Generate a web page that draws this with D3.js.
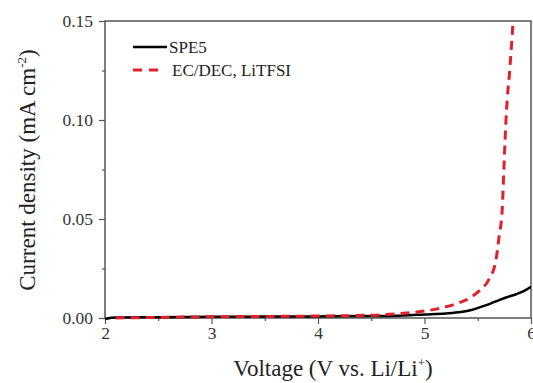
<!DOCTYPE html>
<html>
<head>
<meta charset="utf-8">
<script src="https://cdn.jsdelivr.net/npm/d3@7"></script>
<style>
  body { margin: 0; background: #fff; }
  text { font-family: "Liberation Serif", "DejaVu Serif", serif; }
</style>
</head>
<body>
<div id="chart"></div>
<script>
// series
const speVoltage = [2.0, 2.1, 2.5, 3.0, 3.5, 4.0, 4.5, 4.8, 5.0, 5.2, 5.34, 5.45, 5.53, 5.62, 5.7, 5.78, 5.86, 5.94, 6.0];
const speCurrent = [-0.0005, 0.0002, 0.0004, 0.0006, 0.0007, 0.0008, 0.001, 0.0013, 0.0018, 0.0023, 0.003, 0.0042, 0.0056, 0.0073, 0.009, 0.0106, 0.012, 0.0138, 0.0158];
const ecVoltage = [2.1, 2.5, 3.0, 3.5, 4.0, 4.3, 4.59, 4.8, 5.0, 5.15, 5.3, 5.44, 5.53, 5.6, 5.67, 5.70, 5.73, 5.745, 5.77, 5.80, 5.83];
const ecCurrent = [0.0, 0.0003, 0.0006, 0.0008, 0.001, 0.0012, 0.0016, 0.0024, 0.0035, 0.005, 0.0072, 0.0106, 0.0145, 0.019, 0.029, 0.041, 0.055, 0.075, 0.105, 0.125, 0.148];
const seriesNames = ["SPE5", "EC/DEC, LiTFSI"];
const xTicks = [2, 3, 4, 5, 6];
const yTicks = [0, 0.05, 0.10, 0.15];

const W = 533, H = 383;
const margin = { top: 21, right: 2, bottom: 65, left: 105 };
const width = W - margin.left - margin.right;
const height = H - margin.top - margin.bottom;

const svg = d3.select("#chart").append("svg")
    .attr("width", W)
    .attr("height", H);

const g = svg.append("g")
    .attr("transform", `translate(${margin.left},${margin.top})`);

const x = d3.scaleLinear().domain([2, 6]).range([0, width]);
const y = d3.scaleLinear().domain([0, 0.15]).range([height, 0]);

const axisColor = "#555";
const serif = "'Liberation Serif', 'DejaVu Serif', serif";

//minor ticks
g.append("g")
    .attr("transform", `translate(0,${height})`)
    .call(d3.axisBottom(x).tickValues(d3.range(2.5, 6, 1)).tickSize(3).tickFormat(""))
    .call(a => a.select(".domain").remove())
    .selectAll("line").attr("stroke", axisColor).attr("stroke-width", 1.2);
g.append("g")
    .call(d3.axisLeft(y).tickValues([0.025, 0.075, 0.125]).tickSize(3).tickFormat(""))
    .call(a => a.select(".domain").remove())
    .selectAll("line").attr("stroke", axisColor).attr("stroke-width", 1.2);

//major ticks
const xAxis = g.append("g")
    .attr("transform", `translate(0,${height})`)
    .call(d3.axisBottom(x).tickValues(xTicks).tickSize(6).tickPadding(3).tickFormat(d3.format("d")));
const yAxis = g.append("g")
    .call(d3.axisLeft(y).tickValues(yTicks).tickSize(6).tickPadding(6).tickFormat(d3.format(".2f")));

[xAxis, yAxis].forEach(a => {
    a.attr("font-family", serif).attr("font-size", 17.5);
    a.select(".domain").remove();
    a.selectAll("line").attr("stroke", axisColor).attr("stroke-width", 1.2);
    a.selectAll("text").attr("fill", "#333");
});

//frame
g.append("rect")
    .attr("width", width)
    .attr("height", height)
    .attr("fill", "none")
    .attr("stroke", axisColor)
    .attr("stroke-width", 1.5);

const line = d3.line()
    .x(d => x(d[0]))
    .y(d => y(d[1]))
    .curve(d3.curveMonotoneX);

g.append("defs").append("clipPath").attr("id", "clip")
    .append("rect").attr("width", width).attr("height", height + 2);

g.append("path")
    .datum(speVoltage.map((v, i) => [v, speCurrent[i]]))
    .attr("clip-path", "url(#clip)")
    .attr("fill", "none")
    .attr("stroke", "#000")
    .attr("stroke-width", 2.5)
    .attr("d", line);

g.append("path")
    .datum(ecVoltage.map((v, i) => [v, ecCurrent[i]]))
    .attr("clip-path", "url(#clip)")
    .attr("fill", "none")
    .attr("stroke", "#e0202a")
    .attr("stroke-width", 3)
    .attr("stroke-dasharray", "9,6")
    .attr("d", line);

//legend
const legend = g.append("g")
    .attr("transform", "translate(28,26)")
    .attr("font-family", serif)
    .attr("font-size", 17);
legend.append("line")
    .attr("x1", 0).attr("x2", 34).attr("y1", 0).attr("y2", 0)
    .attr("stroke", "#000").attr("stroke-width", 2.5);
legend.append("text")
    .attr("x", 36).attr("y", 6)
    .attr("fill", "#222")
    .text(seriesNames[0]);
legend.append("line")
    .attr("x1", 0).attr("x2", 28).attr("y1", 23).attr("y2", 23)
    .attr("stroke", "#e0202a").attr("stroke-width", 3)
    .attr("stroke-dasharray", "9,7");
legend.append("text")
    .attr("x", 39).attr("y", 29)
    .attr("fill", "#222")
    .text(seriesNames[1]);

//axis titles
const xTitle = svg.append("text")
    .attr("x", 333)
    .attr("y", 376)
    .attr("text-anchor", "middle")
    .style("font-size", "23px")
    .attr("fill", "#222");
xTitle.append("tspan").text("Voltage (V vs. Li/Li");
xTitle.append("tspan").attr("dy", -9).style("font-size", "13px").text("+");
xTitle.append("tspan").attr("dy", 9).text(")");

const yTitle = svg.append("text")
    .attr("transform", `translate(35,170) rotate(-90)`)
    .attr("text-anchor", "middle")
    .style("font-size", "23px")
    .attr("fill", "#222");
yTitle.append("tspan").text("Current density (mA cm");
yTitle.append("tspan").attr("dy", -9).style("font-size", "13px").text("-2");
yTitle.append("tspan").attr("dy", 9).text(")");
</script>
</body>
</html>
